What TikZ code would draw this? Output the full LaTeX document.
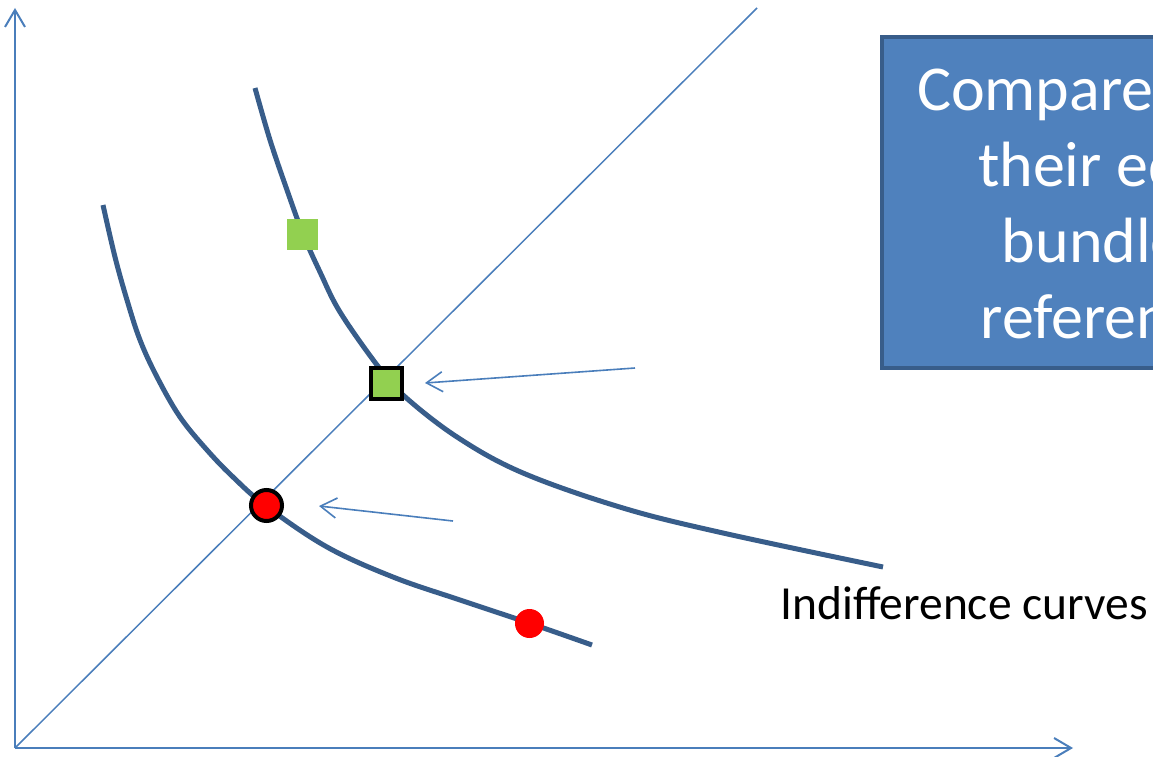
\documentclass[tikz,border=0pt]{standalone}
\usepackage{fontspec}
\setmainfont{Carlito}
\usetikzlibrary{arrows.meta}
\definecolor{axisblue}{RGB}{74,126,187}
\definecolor{curveblue}{RGB}{56,93,138}
\definecolor{boxfill}{RGB}{79,129,189}
\definecolor{boxedge}{RGB}{56,93,138}
\definecolor{bundlegreen}{RGB}{146,208,80}
\definecolor{bundlered}{RGB}{255,0,0}
\tikzset{
  axisline/.style={draw=axisblue, line width=2pt,
    -{Straight Barb[length=17pt, width=20pt, line width=2pt]}},
  rayline/.style={draw=axisblue, line width=1.5pt},
  pointer/.style={draw=axisblue, line width=1.6pt,
    -{Straight Barb[length=16pt, width=20pt, line width=1.6pt]}},
  icurve/.style={draw=curveblue, line width=5pt},
  plainsq/.style={rectangle, fill=bundlegreen, minimum size=31pt, inner sep=0pt, outer sep=0pt},
  framedsq/.style={rectangle, fill=bundlegreen, draw=black, line width=4pt, minimum size=31pt, inner sep=0pt},
  plaindot/.style={circle, fill=bundlered, minimum size=29pt, inner sep=0pt, outer sep=0pt},
  frameddot/.style={circle, fill=bundlered, draw=black, line width=4pt, minimum size=31pt, inner sep=0pt},
  notebox/.style={rectangle, draw=boxedge, fill=boxfill, line width=4.5pt, text=white,
    align=center, inner xsep=35pt, inner ysep=29pt, outer sep=0pt,
    font=\fontsize{64pt}{76pt}\selectfont},
}
\begin{document}
\begin{tikzpicture}[x=1pt, y=-1pt]
\useasboundingbox (0,0) rectangle (1153,757);
\clip (0,0) rectangle (1153,757);

% axes and the diagonal reference ray
\coordinate (O) at (15,748);
\coordinate (ytop) at (15,8);
\coordinate (xend) at (1073,748);
\coordinate (diagend) at (757,8);
\draw[axisline] (O) -- (ytop);
\draw[axisline] (O) -- (xend);
\draw[rayline] (O) -- (diagend);

% indifference curves
\draw[icurve] plot[smooth, tension=0.6] coordinates {
  (103,205) (115,257) (127,300) (140,340) (157,377) (180,417) (207,450)
  (233,477) (266,506) (327,547) (393,577) (460,600) (529,623) (592,645)};
\draw[icurve] plot[smooth, tension=0.6] coordinates {
  (255,88) (270,140) (287,190) (303,234) (320,272) (340,312)
  (377,365) (403,395) (457,437) (523,473) (623,508) (723,533) (883,567)};

% bundles
\node[plainsq] (gA) at (302.5,234.5) {};
\node[framedsq] (gB) at (386.5,383.5) {};
\node[frameddot] (rA) at (266.5,505.5) {};
\node[plaindot] (rB) at (529.5,623.5) {};

% pointers to the equivalent bundles on the ray
\coordinate (tailB) at (635,368);
\coordinate (tipB) at (425,383);
\coordinate (tailA) at (453,521);
\coordinate (tipA) at (319,506);
\draw[pointer] (tailB) -- (tipB);
\draw[pointer] (tailA) -- (tipA);

% labels
\node[font=\fontsize{47.5pt}{57pt}\selectfont, anchor=base west] (iclabel) at (777,619) {Indifference curves};
\node[notebox, anchor=north west] (note) at (882,37)
  {Compare bundles by\\their equivalent\\bundle on the\\reference curve};
\end{tikzpicture}
\end{document}
